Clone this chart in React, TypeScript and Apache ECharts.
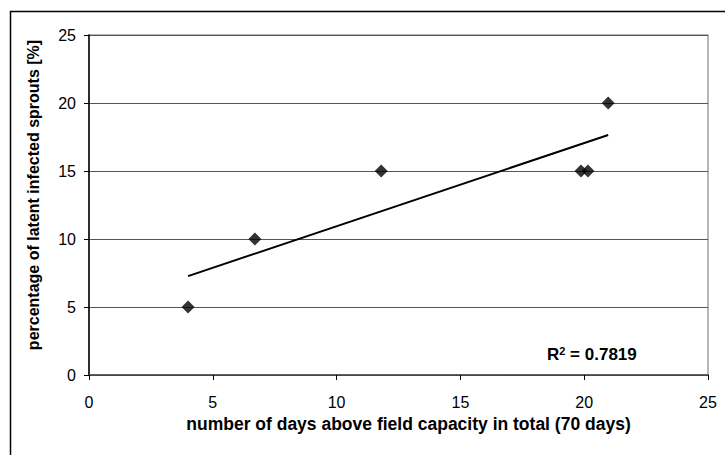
import React, { useEffect, useRef } from "react";
import * as echarts from "echarts";

const daysAbove: number[] = [4, 6.7, 11.8, 19.87, 20.15, 20.97];
const infectedPct: number[] = [5, 10, 15, 15, 15, 20];
const xTicks: number[] = [0, 5, 10, 15, 20, 25];
const yTicks: number[] = [0, 5, 10, 15, 20, 25];
const r2Label = "0.7819";

function regression(xs: number[], ys: number[]) {
  const n = xs.length;
  const mx = xs.reduce((a, b) => a + b, 0) / n;
  const my = ys.reduce((a, b) => a + b, 0) / n;
  let sxy = 0;
  let sxx = 0;
  for (let i = 0; i < n; i++) {
    sxy += (xs[i] - mx) * (ys[i] - my);
    sxx += (xs[i] - mx) * (xs[i] - mx);
  }
  const slope = sxy / sxx;
  return { slope, intercept: my - slope * mx };
}

const FONT = "'Liberation Sans', Arial, sans-serif";

export default function App() {
  const ref = useRef<HTMLDivElement>(null);
  useEffect(() => {
    if (!ref.current) return;
    const chart = echarts.init(ref.current, undefined, { renderer: "svg" });
    const { slope, intercept } = regression(daysAbove, infectedPct);
    const xMin = Math.min(...daysAbove);
    const xMax = Math.max(...daysAbove);
    const trend = [
      [xMin, intercept + slope * xMin],
      [xMax, intercept + slope * xMax],
    ];
    chart.setOption({
      animation: false,
      backgroundColor: "#fff",
      grid: {
        left: 89,
        right: 17,
        top: 35,
        bottom: 80,
        show: true,
        borderColor: "#a0a0a0",
        borderWidth: 1.5,
      },
      xAxis: {
        type: "value",
        min: xTicks[0],
        max: xTicks[xTicks.length - 1],
        interval: 5,
        name: "number of days above field capacity in total (70 days)",
        nameLocation: "middle",
        nameGap: 40,
        nameTextStyle: {
          fontFamily: FONT,
          fontWeight: "bold",
          fontSize: 17.5,
          color: "#000",
          padding: [0, 0, 0, 20],
        },
        axisLine: { show: true, onZero: false, lineStyle: { color: "#444", width: 1.5 } },
        axisTick: { show: true, inside: false, length: 5, lineStyle: { color: "#000", width: 1 } },
        axisLabel: { fontFamily: FONT, fontSize: 16, color: "#000", margin: 19 },
        splitLine: { show: false },
      },
      yAxis: {
        type: "value",
        min: yTicks[0],
        max: yTicks[yTicks.length - 1],
        interval: 5,
        name: "percentage of latent infected sprouts [%]",
        nameLocation: "middle",
        nameGap: 48,
        nameTextStyle: {
          fontFamily: FONT,
          fontWeight: "bold",
          fontSize: 16,
          color: "#000",
          padding: [0, 0, 0, 20],
        },
        axisLine: { show: true, onZero: false, lineStyle: { color: "#000", width: 1.5 } },
        axisTick: { show: true, inside: false, length: 5, lineStyle: { color: "#000", width: 1 } },
        axisLabel: { fontFamily: FONT, fontSize: 16, color: "#000", margin: 13 },
        splitLine: { show: true, lineStyle: { color: "#555", width: 1.2 } },
      },
      graphic: [
        {
          type: "rect",
          left: 8,
          top: 9,
          shape: { x: 0, y: 0, width: 900, height: 600 },
          style: { fill: "none", stroke: "#000", lineWidth: 1.5 },
          silent: true,
          z: -1,
        },
        {
          type: "text",
          left: 547,
          top: 345,
          style: {
            text: "{r|R}{s|2}{r| = " + r2Label + "}",
            rich: {
              r: { fontFamily: FONT, fontWeight: "bold", fontSize: 17, fill: "#000" },
              s: { fontFamily: FONT, fontWeight: "bold", fontSize: 11, fill: "#000", verticalAlign: "top", padding: [0, 0, 8, 0] },
            },
          },
        },
      ],
      series: [
        {
          type: "line",
          data: trend,
          symbol: "none",
          lineStyle: { color: "#000", width: 2 },
          z: 3,
        },
        {
          type: "scatter",
          data: daysAbove.map((x, i) => [x, infectedPct[i]]),
          symbol: "diamond",
          symbolSize: 13,
          itemStyle: { color: "#000" },
          z: 4,
        },
      ],
    });
    return () => chart.dispose();
  }, []);
  return (
    <div
      ref={ref}
      style={{ position: "fixed", left: 0, top: 0, width: 725, height: 455 }}
    />
  );
}
